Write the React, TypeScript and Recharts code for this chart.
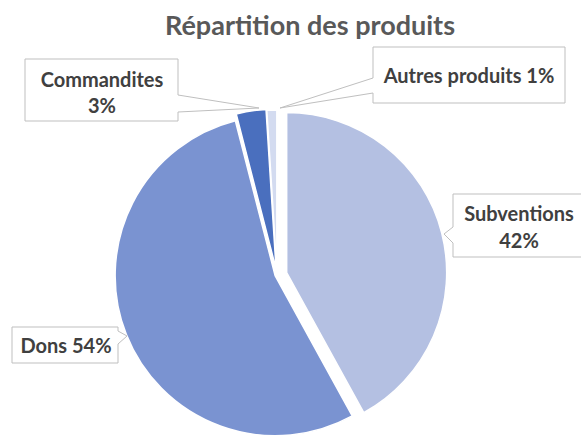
import { PieChart, Pie, Cell } from "recharts"

// Répartition des produits (parts en %)
const TITLE = "Répartition des produits"
const categories = ["Subventions", "Dons", "Commandites", "Autres produits"]
const shares = [42, 54, 3, 1]
const colors = ["#b4c0e2", "#7a93d1", "#4a6fbe", "#d3dbf0"]
const explode = [10, 2, 6, 5] // décalage des parts détachées, px

const W = 581
const H = 436
const CX = 277
const CY = 275
const R = 160

const data = categories.map((name, i) => ({ name, value: shares[i] }))
const total = shares.reduce((a, b) => a + b, 0)

// direction de chaque part = milieu de son angle (sens horaire depuis midi)
const offsets = (() => {
  let acc = 0
  return shares.map((v, i) => {
    const mid = ((acc + v / 2) / total) * 2 * Math.PI
    acc += v
    return { dx: explode[i] * Math.sin(mid), dy: -explode[i] * Math.cos(mid) }
  })
})()

// bulles des étiquettes (mise en page)
type Callout = {
  box: [number, number, number, number]
  side: "left" | "right"
  wedge: [number, number]
  tip: [number, number]
  twoLines: boolean
  textX: number
  textY: number[]
}

const callouts: Callout[] = [
  { box: [453, 194, 134, 63], side: "left", wedge: [227, 243], tip: [444, 234], twoLines: true, textX: 519, textY: [213, 240] },
  { box: [12, 327, 106, 36], side: "right", wedge: [331, 344], tip: [127, 336], twoLines: false, textX: 66, textY: [345] },
  { box: [25, 59, 153, 62], side: "right", wedge: [95, 112], tip: [259, 108], twoLines: true, textX: 102, textY: [79, 105] },
  { box: [373, 47, 192, 56], side: "left", wedge: [78, 93], tip: [280, 108], twoLines: false, textX: 469, textY: [75] },
]

const calloutPath = (c: Callout) => {
  const [x, y, w, h] = c.box
  const [y1, y2] = c.wedge
  const [tx, ty] = c.tip
  if (c.side === "right") {
    return `M${x},${y} H${x + w} V${y1} L${tx},${ty} L${x + w},${y2} V${y + h} H${x} Z`
  }
  return `M${x},${y} H${x + w} V${y + h} H${x} V${y2} L${tx},${ty} L${x},${y1} Z`
}

const makeLabel = (slice: number) => (props: any) => {
  if (props.index !== slice) return null
  const c = callouts[slice]
  const pct = `${Math.round(props.percent * 100)}%`
  const lines = c.twoLines ? [props.name, pct] : [`${props.name} ${pct}`]
  return (
    <g>
      <path d={calloutPath(c)} fill="#fff" stroke="#bfbfbf" strokeWidth={1} />
      {lines.map((t: string, k: number) => (
        <text
          key={k}
          x={c.textX}
          y={c.textY[k]}
          textAnchor="middle"
          dominantBaseline="central"
          fontFamily="Lato, sans-serif"
          fontWeight={700}
          fontSize={20}
          fill="#404040"
        >
          {t}
        </text>
      ))}
    </g>
  )
}

export default function App() {
  return (
    <div style={{ position: "absolute", left: 0, top: 0, width: W, height: H, background: "#fff" }}>
      <div
        style={{
          position: "absolute",
          left: 310,
          top: 11,
          transform: "translateX(-50%)",
          whiteSpace: "nowrap",
          fontFamily: "Lato, sans-serif",
          fontWeight: 700,
          fontSize: 27,
          lineHeight: 1,
          color: "#595959",
        }}
      >
        {TITLE}
      </div>
      <PieChart width={W} height={H} margin={{ top: 0, right: 0, bottom: 0, left: 0 }}>
        {categories.map((_, s) => (
          <Pie
            key={s}
            data={data}
            dataKey="value"
            nameKey="name"
            cx={CX + offsets[s].dx}
            cy={CY + offsets[s].dy}
            outerRadius={R}
            startAngle={90}
            endAngle={-270}
            isAnimationActive={false}
            label={makeLabel(s)}
            labelLine={false}
          >
            {data.map((_, i) => (
              <Cell
                key={i}
                fill={i === s ? colors[i] : "transparent"}
                stroke={i === s ? "#fff" : "none"}
                strokeWidth={1.5}
              />
            ))}
          </Pie>
        ))}
      </PieChart>
    </div>
  )
}
